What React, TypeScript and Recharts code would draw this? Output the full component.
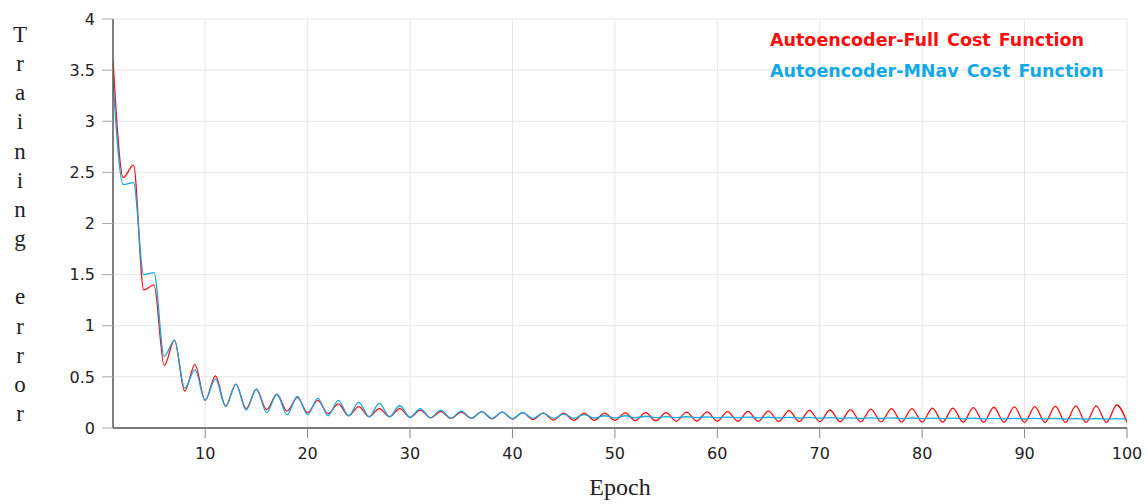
import { Line, LineChart, XAxis, YAxis, CartesianGrid, Legend } from 'recharts'

// training error per epoch
const epochs = Array.from({ length: 100 }, (_, i) => i + 1)

const fullCost = [
  3.6, 2.45, 2.57, 1.35, 1.4, 0.61, 0.86, 0.36, 0.62, 0.27,
  0.51, 0.215, 0.43, 0.19, 0.38, 0.18, 0.33, 0.165, 0.3, 0.15,
  0.27, 0.14, 0.235, 0.12, 0.21, 0.11, 0.19, 0.11, 0.19, 0.105,
  0.175, 0.1, 0.16, 0.095, 0.155, 0.095, 0.16, 0.09, 0.155, 0.088,
  0.15, 0.082, 0.145, 0.078, 0.145, 0.075, 0.145, 0.075, 0.145, 0.075,
  0.148, 0.072, 0.15, 0.07, 0.15, 0.068, 0.155, 0.068, 0.157, 0.067,
  0.16, 0.066, 0.163, 0.065, 0.166, 0.064, 0.17, 0.063, 0.173, 0.062,
  0.176, 0.061, 0.18, 0.06, 0.185, 0.06, 0.19, 0.058, 0.19, 0.058,
  0.195, 0.057, 0.195, 0.057, 0.2, 0.056, 0.203, 0.056, 0.206, 0.055,
  0.21, 0.055, 0.213, 0.055, 0.216, 0.055, 0.216, 0.055, 0.225, 0.055,
]

const mnavCost = [
  3.4, 2.38, 2.4, 1.5, 1.52, 0.7, 0.86, 0.39, 0.57, 0.27,
  0.48, 0.21, 0.43, 0.175, 0.38, 0.15, 0.33, 0.13, 0.31, 0.13,
  0.29, 0.12, 0.27, 0.12, 0.25, 0.11, 0.24, 0.11, 0.22, 0.105,
  0.19, 0.1, 0.175, 0.095, 0.166, 0.095, 0.16, 0.095, 0.155, 0.09,
  0.15, 0.095, 0.145, 0.095, 0.135, 0.095, 0.13, 0.098, 0.12, 0.1,
  0.12, 0.1, 0.115, 0.102, 0.112, 0.102, 0.11, 0.102, 0.108, 0.1,
  0.107, 0.1, 0.106, 0.099, 0.105, 0.098, 0.104, 0.097, 0.103, 0.096,
  0.102, 0.095, 0.1, 0.094, 0.1, 0.093, 0.099, 0.092, 0.098, 0.092,
  0.097, 0.091, 0.097, 0.09, 0.096, 0.09, 0.095, 0.089, 0.095, 0.088,
  0.094, 0.088, 0.094, 0.087, 0.093, 0.087, 0.093, 0.086, 0.092, 0.086,
]

const xTicks = [10, 20, 30, 40, 50, 60, 70, 80, 90, 100]
const yTicks = [0, 0.5, 1, 1.5, 2, 2.5, 3, 3.5, 4]

const seriesNames = ['Autoencoder-Full Cost Function', 'Autoencoder-MNav Cost Function']
const yTitle = 'Training error'
const xTitle = 'Epoch'

const RED = '#ff0d0d'
const BLUE = '#12a9e6'

const data = epochs.map((epoch, i) => ({
  epoch,
  full: fullCost[i],
  mnav: mnavCost[i],
}))

const serif = '"Liberation Serif", "Times New Roman", serif'
const sans = '"DejaVu Sans", sans-serif'

function StackedYTitle() {
  // letters stacked one per line, as in the original figure
  const letters = yTitle.split('')
  return (
    <text x={20} y={42} textAnchor='middle' fontFamily={serif} fontSize={23} fill='#222'>
      {letters.map((ch, i) => (
        <tspan key={i} x={20} y={42 + i * 29.15}>
          {ch === ' ' ? '\u00a0' : ch}
        </tspan>
      ))}
    </text>
  )
}

function XTitle(props: any) {
  const vb = props.viewBox || {}
  return (
    <text x={vb.x + vb.width / 2} y={495} textAnchor='middle' fontFamily={serif} fontSize={24} fill='#222'>
      {xTitle}
    </text>
  )
}

function LegendBox() {
  return (
    <div style={{ fontFamily: sans, fontWeight: 'bold', fontSize: 17.5, lineHeight: '30.6px', wordSpacing: 2, whiteSpace: 'nowrap' }}>
      <div style={{ color: RED }}>{seriesNames[0]}</div>
      <div style={{ color: BLUE }}>{seriesNames[1]}</div>
    </div>
  )
}

export default function App() {
  return (
    <div style={{ position: 'absolute', left: 0, top: 0, width: 1148, height: 504, background: '#fff' }}>
      <LineChart width={1148} height={504} data={data} margin={{ top: 19, right: 21, left: 0, bottom: 0 }}>
        <CartesianGrid stroke='#e6e6e6' strokeWidth={1} horizontalValues={yTicks} verticalValues={xTicks} />
        <XAxis
          dataKey='epoch'
          type='number'
          domain={[1, 100]}
          ticks={xTicks}
          allowDataOverflow
          height={76}
          tickSize={10}
          tickMargin={10}
          tick={{ fill: '#222', fontSize: 16, fontFamily: sans }}
          tickLine={{ stroke: '#888' }}
          axisLine={{ stroke: '#555', strokeWidth: 1.5 }}
          label={{ content: XTitle }}
        />
        <YAxis
          type='number'
          domain={[0, 4]}
          ticks={yTicks}
          width={113}
          tickSize={11}
          tickMargin={7}
          tick={{ fill: '#222', fontSize: 16, fontFamily: sans }}
          tickLine={{ stroke: '#aaa' }}
          axisLine={{ stroke: '#555', strokeWidth: 1.5 }}
          label={{ content: StackedYTitle }}
        />
        <Legend
          layout='horizontal'
          verticalAlign='middle'
          align='center'
          content={LegendBox}
          wrapperStyle={{ position: 'absolute', top: 25, left: 770, width: 'auto' }}
        />
        <Line
          type='monotone'
          dataKey='full'
          stroke={RED}
          strokeWidth={1.3}
          dot={false}
          isAnimationActive={false}
        />
        <Line
          type='monotone'
          dataKey='mnav'
          stroke={BLUE}
          strokeWidth={1.3}
          dot={false}
          isAnimationActive={false}
        />
      </LineChart>
    </div>
  )
}
